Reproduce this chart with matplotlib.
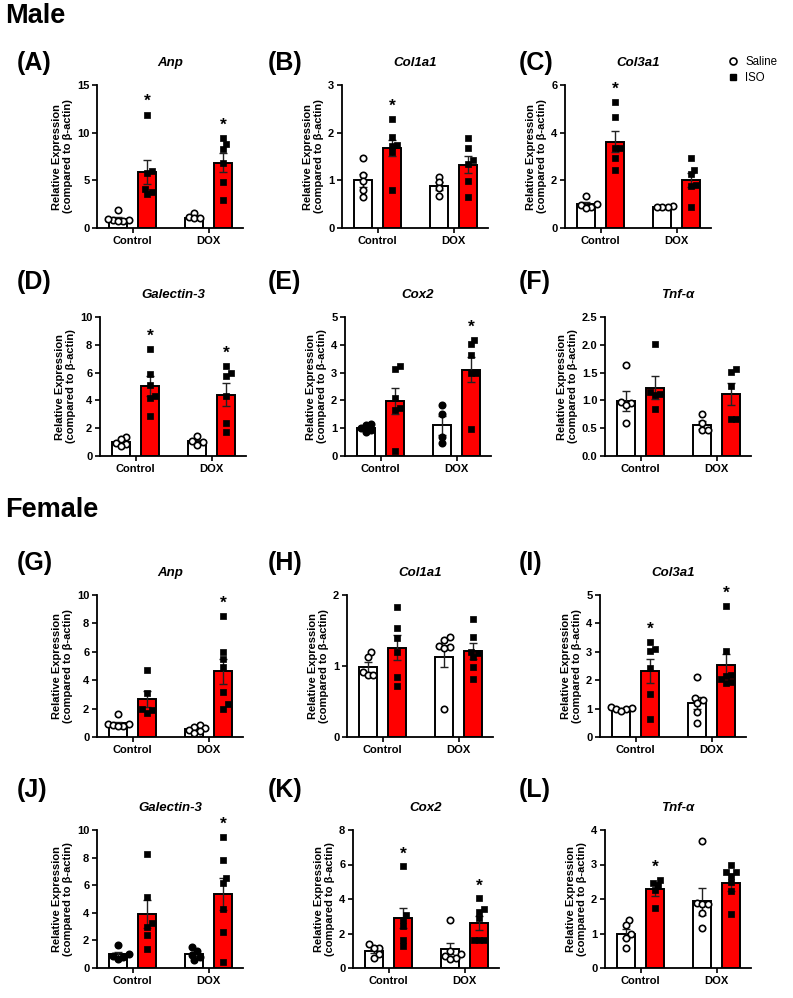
import matplotlib
matplotlib.use('Agg')
import matplotlib.pyplot as plt
from matplotlib.lines import Line2D

plt.rcParams['font.family'] = ['Liberation Sans', 'DejaVu Sans']

# ---------------- data ----------------
groups = ['Control', 'DOX']
series = ['Saline', 'ISO']

# order in each list: Control-Saline, Control-ISO, DOX-Saline, DOX-ISO
A_mean = [0.97, 5.85, 1.05, 6.85]
A_sem = [0.15, 1.25, 0.13, 1.0]
A_pts = [[1.85, 0.85, 0.8, 0.75, 0.7, 0.9], [11.9, 6.0, 5.8, 4.1, 3.6, 3.8],
         [1.55, 1.15, 1.0, 1.0], [9.4, 8.8, 8.3, 6.8, 4.8, 2.9]]
A_star = [0, 1, 0, 1]

B_mean = [1.0, 1.68, 0.88, 1.33]
B_sem = [0.13, 0.17, 0.08, 0.18]
B_pts = [[1.46, 1.12, 0.98, 0.8, 0.66], [2.28, 1.9, 1.75, 1.72, 1.6, 0.8],
         [1.07, 0.96, 0.83, 0.68], [1.88, 1.67, 1.43, 1.35, 0.98, 0.65]]
B_star = [0, 1, 0, 0]

C_mean = [1.0, 3.62, 0.9, 2.02]
C_sem = [0.07, 0.45, 0.02, 0.3]
C_pts = [[1.33, 1.0, 0.95, 0.9, 0.85], [5.27, 4.65, 3.34, 3.34, 2.92, 2.42],
         [0.93, 0.9, 0.88, 0.9], [2.95, 2.45, 2.25, 1.8, 1.75, 0.9]]
C_star = [0, 1, 0, 0]

D_mean = [1.0, 5.02, 1.05, 4.4]
D_sem = [0.1, 0.72, 0.12, 0.82]
D_pts = [[1.35, 1.2, 0.95, 0.85, 0.75], [7.68, 5.88, 5.1, 4.3, 4.2, 2.9],
         [1.43, 1.05, 1.0, 0.8], [6.48, 6.0, 5.74, 4.3, 2.34, 1.75]]
D_star = [0, 1, 0, 1]

E_mean = [1.0, 1.99, 1.1, 3.1]
E_sem = [0.05, 0.47, 0.35, 0.45]
E_pts = [[1.15, 1.1, 1.0, 0.95, 0.85], [3.12, 3.25, 2.07, 1.73, 1.67, 0.19],
         [1.83, 1.5, 0.67, 0.45], [4.02, 4.19, 3.62, 2.99, 2.99, 0.96]]
E_star = [0, 0, 0, 1]

F_mean = [0.99, 1.23, 0.56, 1.12]
F_sem = [0.18, 0.21, 0.07, 0.2]
F_pts = [[1.64, 0.97, 0.95, 0.92, 0.6], [2.01, 1.15, 1.11, 1.09, 0.84],
         [0.75, 0.6, 0.47, 0.47], [1.57, 1.51, 1.26, 0.66, 0.66]]
F_star = [0, 0, 0, 0]

G_mean = [0.97, 2.68, 0.55, 4.62]
G_sem = [0.12, 0.57, 0.08, 0.9]
G_pts = [[1.6, 0.95, 0.9, 0.85, 0.8, 0.75], [4.7, 3.1, 2.0, 1.9, 1.7],
         [0.85, 0.7, 0.6, 0.5, 0.4, 0.3], [8.52, 5.98, 5.48, 4.96, 3.18, 2.3, 2.0]]
G_star = [0, 0, 0, 1]

H_mean = [0.99, 1.26, 1.13, 1.21]
H_sem = [0.07, 0.18, 0.15, 0.11]
H_pts = [[1.2, 1.13, 0.92, 0.87, 0.87], [1.83, 1.54, 1.4, 1.2, 0.84, 0.72],
         [1.41, 1.37, 1.28, 1.27, 1.25, 0.39], [1.66, 1.41, 1.2, 1.18, 1.13, 0.99, 0.82]]
H_star = [0, 0, 0, 0]

I_mean = [0.98, 2.33, 1.2, 2.52]
I_sem = [0.03, 0.43, 0.2, 0.4]
I_pts = [[1.05, 1.03, 1.0, 0.97, 0.9], [3.35, 3.1, 3.03, 2.42, 1.51, 0.63],
         [2.1, 1.36, 1.3, 1.18, 0.89, 0.5], [4.61, 3.04, 2.18, 2.15, 2.03, 1.95, 1.9]]
I_star = [0, 1, 0, 1]

J_mean = [1.0, 3.9, 1.0, 5.35]
J_sem = [0.15, 1.0, 0.15, 1.15]
J_pts = [[1.65, 1.0, 0.9, 0.8, 0.65], [8.29, 5.14, 3.29, 3.0, 2.4, 1.38],
         [1.5, 1.2, 0.95, 0.8, 0.6], [9.5, 7.81, 6.52, 6.17, 4.29, 2.64, 0.4]]
J_star = [0, 0, 0, 1]

K_mean = [1.0, 2.9, 1.12, 2.62]
K_sem = [0.12, 0.6, 0.33, 0.4]
K_pts = [[1.37, 1.18, 1.14, 0.8, 0.6], [5.89, 3.08, 2.8, 2.41, 1.62, 1.27],
         [2.76, 1.0, 0.8, 0.7, 0.6, 0.55], [4.03, 3.4, 3.27, 2.89, 1.65, 1.65, 1.65]]
K_star = [0, 1, 0, 1]

L_mean = [0.99, 2.28, 1.93, 2.47]
L_sem = [0.13, 0.18, 0.38, 0.25]
L_pts = [[1.39, 1.25, 0.99, 0.87, 0.57], [2.56, 2.45, 2.42, 2.27, 1.75],
         [3.69, 1.87, 1.85, 1.85, 1.58, 1.16], [3.0, 2.79, 2.77, 2.67, 2.48, 2.22, 1.56]]
L_star = [0, 1, 0, 0]

titles = ['Anp', 'Col1a1', 'Col3a1', 'Galectin-3', 'Cox2', 'Tnf-α',
          'Anp', 'Col1a1', 'Col3a1', 'Galectin-3', 'Cox2', 'Tnf-α']
letters = ['(A)', '(B)', '(C)', '(D)', '(E)', '(F)',
           '(G)', '(H)', '(I)', '(J)', '(K)', '(L)']
y_max = [15, 3, 6, 10, 5, 2.5, 10, 2, 5, 10, 8, 4]
y_step = [5, 1, 2, 2, 1, 0.5, 2, 1, 1, 2, 2, 1]
saline_filled = [0, 0, 0, 0, 1, 0, 0, 0, 0, 1, 0, 0]

means = [A_mean, B_mean, C_mean, D_mean, E_mean, F_mean, G_mean, H_mean, I_mean, J_mean, K_mean, L_mean]
sems = [A_sem, B_sem, C_sem, D_sem, E_sem, F_sem, G_sem, H_sem, I_sem, J_sem, K_sem, L_sem]
points = [A_pts, B_pts, C_pts, D_pts, E_pts, F_pts, G_pts, H_pts, I_pts, J_pts, K_pts, L_pts]
stars = [A_star, B_star, C_star, D_star, E_star, F_star, G_star, H_star, I_star, J_star, K_star, L_star]

# ---------------- layout (pixels) ----------------
W, H = 793, 998
fig = plt.figure(figsize=(W / 100, H / 100), dpi=100)
RED = '#FF0000'

axes_left = [97, 342, 565, 100, 345, 605, 97, 347, 600, 97, 353, 605]
row_top = [85, 317, 595, 830]
row_bot = [228, 456, 737, 968]
label_y = [63, 282, 563, 790]
label_x = [17, 268, 519]
AX_W = 146
XLIM = (-0.47, 1.45)
OFF = 0.19
BAR_W = 0.24


def swarm(vals, ppu_x, ppu_y, d=5.2):
    order = sorted(range(len(vals)), key=lambda i: vals[i])
    placed = []
    xs = [0.0] * len(vals)
    cands = [0.0]
    for k in range(1, 12):
        cands += [k * 0.5 * d, -k * 0.5 * d]
    for i in order:
        ypx = vals[i] * ppu_y
        for c in cands:
            if all((c - px) ** 2 + (ypx - py) ** 2 >= d * d for px, py in placed):
                break
        placed.append((c, ypx))
        xs[i] = c / ppu_x
    return xs


for p in range(12):
    r, c = divmod(p, 3)
    left = axes_left[p]
    top, bot = row_top[r], row_bot[r]
    ax = fig.add_axes([left / W, 1 - bot / H, AX_W / W, (bot - top) / H])
    ax.set_xlim(*XLIM)
    ax.set_ylim(0, y_max[p])
    ppu_x = AX_W / (XLIM[1] - XLIM[0])
    ppu_y = (bot - top) / y_max[p]

    pos = [0 - OFF, 0 + OFF, 1 - OFF, 1 + OFF]
    colors = ['white', RED, 'white', RED]
    ax.bar(pos, means[p], width=BAR_W, color=colors, edgecolor='black',
           linewidth=1.4, zorder=2)
    ax.errorbar(pos, means[p], yerr=sems[p], fmt='none', ecolor='#222222',
                elinewidth=1.0, capsize=3.2, capthick=1.0, zorder=3)
    for j in range(4):
        vals = points[p][j]
        dx = swarm(vals, ppu_x, ppu_y)
        xs = [pos[j] + d for d in dx]
        if j % 2 == 0:
            fc = 'black' if saline_filled[p] else 'white'
            ax.scatter(xs, vals, s=21, marker='o', facecolor=fc, edgecolor='black',
                       linewidth=1.2, zorder=4, clip_on=False)
        else:
            ax.scatter(xs, vals, s=21, marker='s', facecolor='black', edgecolor='black',
                       linewidth=0.5, zorder=4, clip_on=False)
        if stars[p][j]:
            ys = max(vals) + 0.12 * y_max[p] - 8.5 / ppu_y
            ax.text(pos[j], ys, '*', ha='center', va='baseline', fontsize=12.5,
                    fontweight='bold')

    for s in ['top', 'right']:
        ax.spines[s].set_visible(False)
    for s in ['left', 'bottom']:
        ax.spines[s].set_linewidth(1.3)
    ax.set_xticks([0, 1])
    ax.set_xticklabels(groups, fontsize=8, fontweight='bold')
    n = int(round(y_max[p] / y_step[p]))
    ticks = [k * y_step[p] for k in range(n + 1)]
    ax.set_yticks(ticks)
    if y_step[p] < 1:
        ax.set_yticklabels([f'{t:.1f}' for t in ticks], fontsize=8, fontweight='bold')
    else:
        ax.set_yticklabels([f'{int(t)}' for t in ticks], fontsize=8, fontweight='bold')
    ax.tick_params(axis='both', length=3.5, width=1.2, pad=2)
    ax.set_ylabel('Relative Expression\n(compared to β-actin)', fontsize=8,
                  fontweight='bold', labelpad=3, linespacing=1.1)

    # gene title
    cx = left + AX_W / 2
    fig.text(cx / W, 1 - (top - 22) / H, titles[p], ha='center', va='center',
             fontsize=9.5, fontweight='bold', style='italic')
    # panel letter
    fig.text(label_x[c] / W, 1 - label_y[r] / H, letters[p], ha='left', va='center',
             fontsize=18, fontweight='bold')

fig.text(5 / W, 1 - 16 / H, 'Male', ha='left', va='center', fontsize=19.5, fontweight='bold')
fig.text(5 / W, 1 - 510 / H, 'Female', ha='left', va='center', fontsize=19.5, fontweight='bold')

handles = [Line2D([], [], ls='none', marker='o', mfc='white', mec='black', mew=1.2, ms=5),
           Line2D([], [], ls='none', marker='s', mfc='black', mec='black', ms=5)]
fig.legend(handles, series, loc='center left', bbox_to_anchor=(727 / W, 1 - 70 / H),
           frameon=False, fontsize=8.3, handlelength=1.0, handletextpad=0.6,
           labelspacing=0.35, borderpad=0, borderaxespad=0)

fig.savefig('out.png', dpi=100)
